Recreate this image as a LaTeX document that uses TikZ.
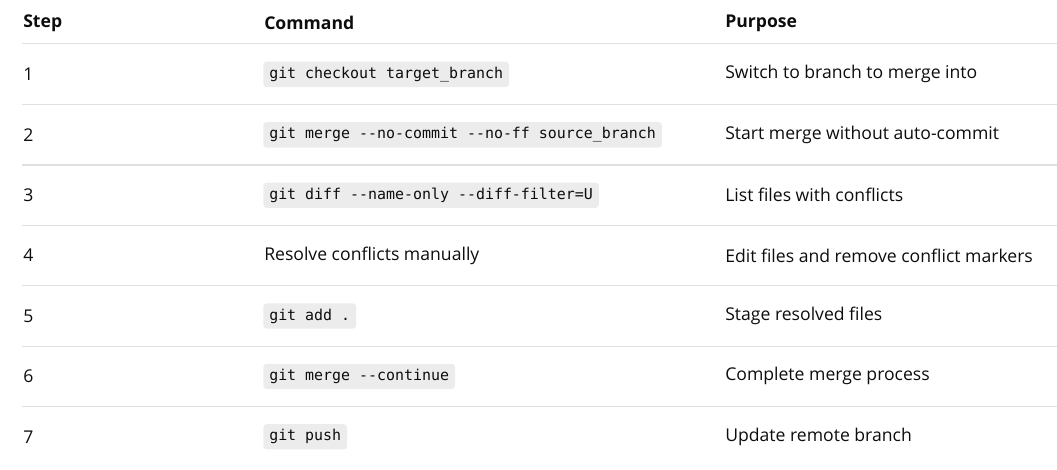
\documentclass[tikz,border=0pt]{standalone}
\usepackage{fontspec}
\setmainfont{Open Sans}
\setmonofont{DejaVu Sans Mono}
\definecolor{rulegray}{RGB}{224,224,224}
\definecolor{codebg}{RGB}{236,236,236}
\definecolor{txt}{RGB}{13,13,13}
\tikzset{
  celltext/.style={anchor=west,inner sep=0.75pt,text=txt,font=\fontsize{13.2}{15}\selectfont},
  headtext/.style={celltext,font=\fontsize{13.2}{15}\selectfont\bfseries},
  codetext/.style={anchor=west,inner xsep=4.5pt,inner ysep=4pt,rounded corners=2.5pt,fill=codebg,text=txt,font=\ttfamily\fontsize{11.2}{12}\selectfont}
}
\begin{document}
\begin{tikzpicture}[x=0.75pt,y=0.75pt,yscale=-1,xscale=1]
\useasboundingbox (0,0) rectangle (1057,469);

% header
\node[headtext] (hstep) at (22,23) {Step};
\node[headtext] (hcmd) at (263,23) {Command};
\node[headtext] (hpur) at (724,23) {Purpose};
\draw[rulegray,line width=0.9] (22,43.5) -- (1057,43.5);

% rows
\foreach \i/\cmd/\pur in {
  1/{git checkout target\_branch}/{Switch to branch to merge into},
  2/{git merge --no-commit --no-ff source\_branch}/{Start merge without auto-commit},
  3/{git diff --name-only --diff-filter=U}/{List files with conflicts},
  5/{git add .}/{Stage resolved files},
  6/{git merge --continue}/{Complete merge process},
  7/{git push}/{Update remote branch}}{
  \node[celltext] (step\i) at (22,{14+60.4*\i}) {\i};
  \node[codetext] (cmd\i) at (263,{14+60.4*\i}) {\cmd};
  \node[celltext] (pur\i) at (724,{14+60.4*\i}) {\pur};
}
\node[celltext] (step4) at (22,255.6) {4};
\node[celltext] (cmd4) at (263,255.6) {Resolve conflicts manually};
\node[celltext] (pur4) at (724,255.6) {Edit files and remove conflict markers};

% separators
\foreach \i in {1,...,6}
  \draw[rulegray,line width=0.9] (22,{44.2+60.4*\i}) -- (1057,{44.2+60.4*\i});
\end{tikzpicture}
\end{document}
